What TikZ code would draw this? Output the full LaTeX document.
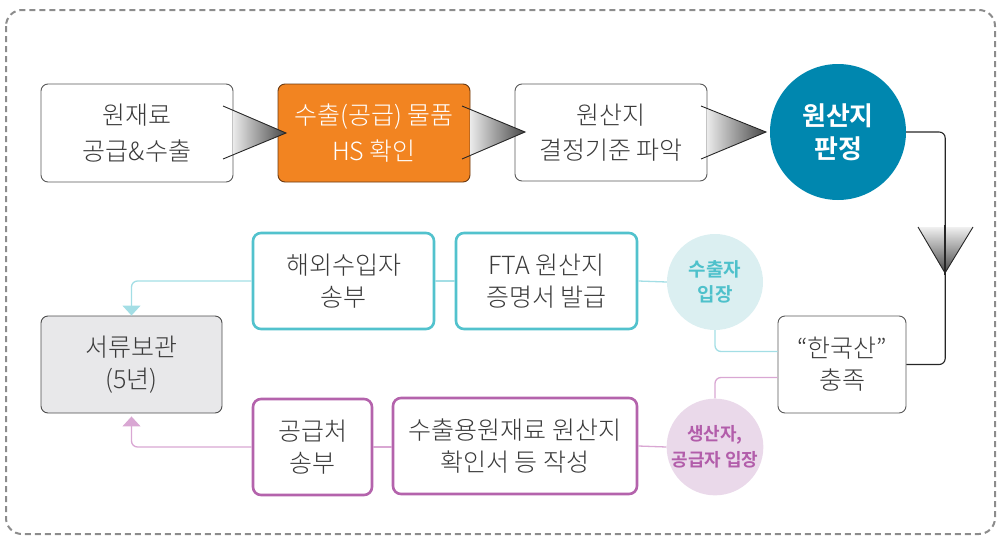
\documentclass[tikz,border=0pt]{standalone}
\usepackage{fontspec}
\setmainfont{Noto Sans CJK KR Light}[BoldFont={Noto Sans CJK KR Bold}]
\usetikzlibrary{arrows.meta,calc}
\definecolor{txt}{HTML}{3A3A3A}
\definecolor{orangeF}{HTML}{F28421}
\definecolor{orangeD}{HTML}{6A3A12}
\definecolor{blueC}{HTML}{0087AF}
\definecolor{cyanB}{HTML}{52C2CD}
\definecolor{cyanL}{HTML}{A3DEE5}
\definecolor{cyanF}{HTML}{DBEFF1}
\definecolor{cyanT}{HTML}{4EC1CB}
\definecolor{purpB}{HTML}{B463AC}
\definecolor{purpL}{HTML}{D9A7D3}
\definecolor{purpF}{HTML}{EAD9EA}
\definecolor{purpT}{HTML}{B25DAA}
\definecolor{boxG}{HTML}{E8E8EA}
\definecolor{dashG}{HTML}{8C8C8C}
\tikzset{
  basebox/.style={rectangle, rounded corners=7pt, align=center, text=txt,
    font=\fontsize{25}{32}\selectfont, inner sep=0pt},
  toprow/.style={font=\fontsize{25}{35.5}\selectfont},
  greybox/.style={basebox, draw=black!65, line width=0.9pt, fill=white},
  orangebox/.style={basebox, draw=orangeD, line width=0.9pt, fill=orangeF, text=white},
  storebox/.style={basebox, draw=black!70, line width=0.9pt, fill=boxG},
  cyanbox/.style={basebox, draw=cyanB, line width=2.6pt, fill=white, rounded corners=8pt},
  purpbox/.style={basebox, draw=purpB, line width=2.6pt, fill=white, rounded corners=8pt},
  bluecirc/.style={circle, fill=blueC, text=white, align=center, inner sep=0pt,
    minimum size=136pt, font=\bfseries\fontsize{26}{33}\selectfont},
  cyancirc/.style={circle, fill=cyanF, text=cyanT, align=center, inner sep=0pt,
    minimum size=96pt, font=\bfseries\fontsize{19}{25}\selectfont},
  purpcirc/.style={circle, fill=purpF, text=purpT, align=center, inner sep=0pt,
    minimum size=96pt, font=\bfseries\fontsize{18}{26}\selectfont},
  blackline/.style={draw=black!85, line width=1.1pt, rounded corners=6pt},
  cyanline/.style={draw=cyanL, line width=1.3pt, rounded corners=6pt},
  purpline/.style={draw=purpL, line width=1.3pt, rounded corners=6pt},
  funnelfill/.style={left color=black!8, right color=black!72},
  funnelline/.style={draw=black!85, line width=0.9pt},
}
\begin{document}
\begin{tikzpicture}[x=1pt,y=-1pt]
\useasboundingbox (0,0) rectangle (999,536);
% outer dashed frame
\draw[dashG, line width=2pt, dash pattern=on 6pt off 4pt, rounded corners=16pt]
  (6,10) rectangle (995,534);

% connectors (under nodes)
\node[bluecirc] (c1) at (838,132) {원산지\\판정};
\node[greybox, minimum width=128pt, minimum height=97pt] (kr) at (842,364.5) {“한국산”\\충족};
\draw[blackline] (c1.east) -- ++(39,0) |- (kr.east);

\node[cyancirc] (c2) at (715,282) {수출자\\입장};
\node[purpcirc] (c3) at (715,447) {생산자,\\공급자 입장};
\draw[cyanline] (c2.south) |- ([yshift=13pt]kr.west);
\draw[purpline] ([yshift=-13pt]kr.west) -| (c3.north);

\node[cyanbox, minimum width=181pt, minimum height=96pt] (fta) at (546.5,281) {FTA 원산지\\증명서 발급};
\node[cyanbox, minimum width=181pt, minimum height=96pt] (imp) at (343.5,281) {해외수입자\\송부};
\node[storebox, minimum width=181pt, minimum height=97pt] (store) at (131.5,364.5) {서류보관\\(5년)};
\node[purpbox, minimum width=119pt, minimum height=96pt] (sup) at (312.5,447) {공급처\\송부};
\node[purpbox, minimum width=244pt, minimum height=96pt] (orig) at (515,446) {수출용원재료 원산지\\확인서 등 작성};

\draw[cyanline] (fta.east) -- (c2.west);
\draw[cyanline] (imp.east) -- (fta.west);
\draw[cyanline, -{Triangle[width=18pt,length=10pt]}] (imp.west) -| (store.north);
\draw[purpline] (orig.east) -- (c3.west);
\draw[purpline] (sup.east) -- (sup.east -| orig.west);
\draw[purpline, -{Triangle[width=18pt,length=10pt]}] (sup.west) -| ([yshift=-3pt]store.south);

% top row boxes
\node[greybox, toprow, minimum width=192pt, minimum height=98pt] (b1) at (137,133) {원재료\\공급\&수출};
\node[orangebox, toprow, minimum width=192pt, minimum height=98pt] (b2) at (374,133) {수출(공급) 물품\\HS 확인};
\node[greybox, toprow, minimum width=192pt, minimum height=97pt] (b3) at (611,132.5) {원산지\\결정기준 파악};

% funnel arrows
\shade[funnelfill] (233,110.3) -- (286,133) -- (233,154.7) -- cycle;
\draw[funnelline] (223,106) -- (286,133) -- (223,159);
\shade[funnelfill] (470,109.3) -- (525,132) -- (470,155.6) -- cycle;
\draw[funnelline] (462,106) -- (525,132) -- (462,159);
\shade[funnelfill] (707,108.4) -- (766,132) -- (707,156.5) -- cycle;
\draw[funnelline] (701,106) -- (766,132) -- (701,159);
\shade[top color=black!6, bottom color=black!72] (918,227) -- (945,273) -- (973,227) -- cycle;
\draw[funnelline] (918,227) -- (945,273) -- (973,227);
\draw[draw=black!85, line width=1.1pt] (945,225) -- (945,275);
\end{tikzpicture}
\end{document}
